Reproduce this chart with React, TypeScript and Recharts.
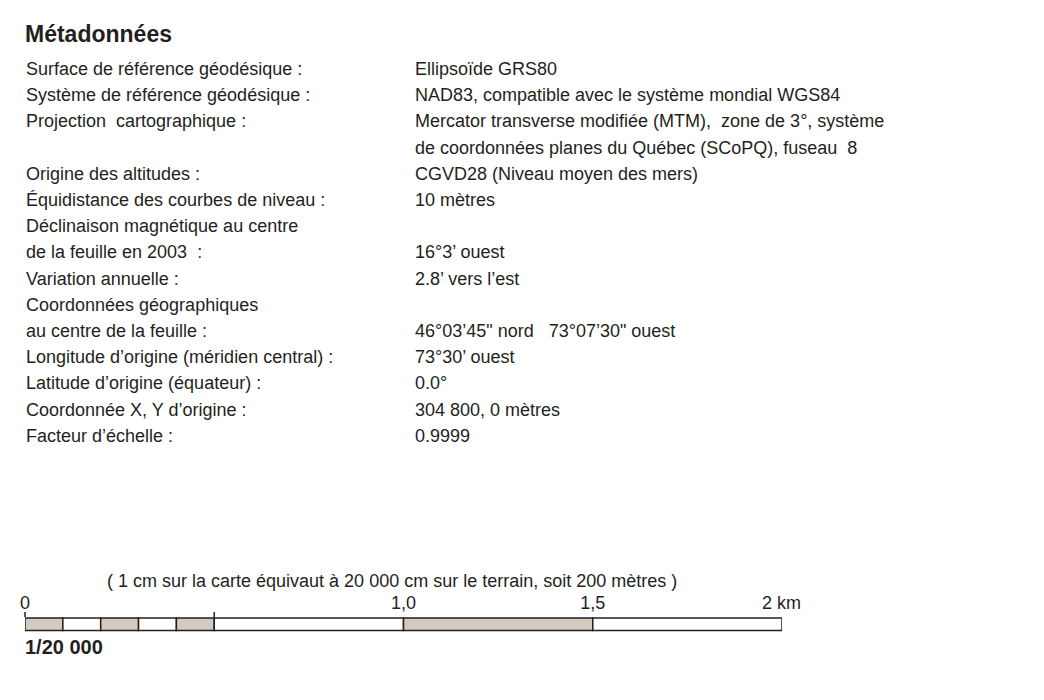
import React from 'react';
import { BarChart, Bar, XAxis, YAxis } from 'recharts';

const metaLabels = [
  'Surface de référence géodésique :',
  'Système de référence géodésique :',
  'Projection  cartographique :',
  '',
  'Origine des altitudes :',
  'Équidistance des courbes de niveau :',
  'Déclinaison magnétique au centre',
  'de la feuille en 2003  :',
  'Variation annuelle :',
  'Coordonnées géographiques',
  'au centre de la feuille :',
  'Longitude d’origine (méridien central) :',
  'Latitude d’origine (équateur) :',
  'Coordonnée X, Y d’origine :',
  'Facteur d’échelle :',
];

const metaValues = [
  'Ellipsoïde GRS80',
  'NAD83, compatible avec le système mondial WGS84',
  'Mercator transverse modifiée (MTM),  zone de 3°, système',
  'de coordonnées planes du Québec (SCoPQ), fuseau  8',
  'CGVD28 (Niveau moyen des mers)',
  '10 mètres',
  '',
  '16°3’ ouest',
  '2.8’ vers l’est',
  '',
  '46°03’45" nord   73°07’30" ouest',
  '73°30’ ouest',
  '0.0°',
  '304 800, 0 mètres',
  '0.9999',
];

// segment lengths in km, left to right
const scaleSegments = [0.1, 0.1, 0.1, 0.1, 0.1, 0.5, 0.5, 0.5];
const scaleTicks = [0, 0.5, 1, 1.5, 2];
const scaleTickLabels = ['0', '', '1,0', '1,5', '2 km'];

const title = 'Métadonnées';
const scaleNote = '( 1 cm sur la carte équivaut à 20 000 cm sur le terrain, soit 200 mètres )';
const scaleRatio = '1/20 000';

const FONT = '"Liberation Sans", Arial, Helvetica, sans-serif';
const INK = '#231f20';
const SHADE = '#d4cbbf';

const scaleRow: Record<string, string | number> = { name: 'echelle' };
scaleSegments.forEach((v, i) => { scaleRow[`s${i}`] = v; });

const ScaleTick = (props: any) => {
  const { x, y, index } = props;
  const label = scaleTickLabels[index] ?? '';
  const last = index === scaleTicks.length - 1;
  return (
    <g>
      {index < 2 && <line x1={x} x2={x} y1={y - 5} y2={y} stroke={INK} strokeWidth={1.5} />}
      {label && (
        <text x={last ? x - 20 : x} y={y - 8} textAnchor={last ? 'start' : 'middle'}
          fontSize={18} fill={INK} fontFamily={FONT} style={{ whiteSpace: 'pre' }}>
          {label}
        </text>
      )}
    </g>
  );
};

export default function App() {
  const rowH = 26.2;
  return (
    <div style={{ position: 'absolute', left: 0, top: 0, width: 1044, height: 700, background: '#fff', fontFamily: FONT }}>
      <svg width={1044} height={700} style={{ position: 'absolute', left: 0, top: 0 }}>
        <text x={25} y={42} fontSize={23} fontWeight="bold" fill={INK} fontFamily={FONT}>{title}</text>
        {metaLabels.map((t, i) => t && (
          <text key={`l${i}`} x={26} y={75 + i * rowH} fontSize={18} fill={INK} fontFamily={FONT} style={{ whiteSpace: 'pre' }}>{t}</text>
        ))}
        {metaValues.map((t, i) => t && (
          <text key={`v${i}`} x={415} y={75 + i * rowH} fontSize={18} fill={INK} fontFamily={FONT} style={{ whiteSpace: 'pre' }}>{t}</text>
        ))}
        <text x={107} y={587} fontSize={18} fill={INK} fontFamily={FONT}>{scaleNote}</text>
        <text x={25} y={654} fontSize={20} fontWeight="bold" fill={INK} fontFamily={FONT}>{scaleRatio}</text>
      </svg>
      <div style={{ position: 'absolute', left: 0, top: 0 }}>
        <BarChart width={1044} height={700} data={[scaleRow]} layout="vertical"
          margin={{ top: 587, right: 262, bottom: 69, left: 25 }} barCategoryGap={0}>
          <XAxis type="number" domain={[0, 2]} ticks={scaleTicks} orientation="top" height={30}
            axisLine={false} tickLine={false} tickSize={0} tickMargin={0} interval={0}
            allowDataOverflow tick={<ScaleTick />} />
          <YAxis type="category" dataKey="name" hide />
          {scaleSegments.map((_, i) => (
            <Bar key={i} dataKey={`s${i}`} stackId="a" barSize={14}
              fill={i % 2 === 0 && i < 7 ? SHADE : '#fff'} stroke={INK} strokeWidth={1.5}
              isAnimationActive={false} />
          ))}
        </BarChart>
      </div>
    </div>
  );
}
